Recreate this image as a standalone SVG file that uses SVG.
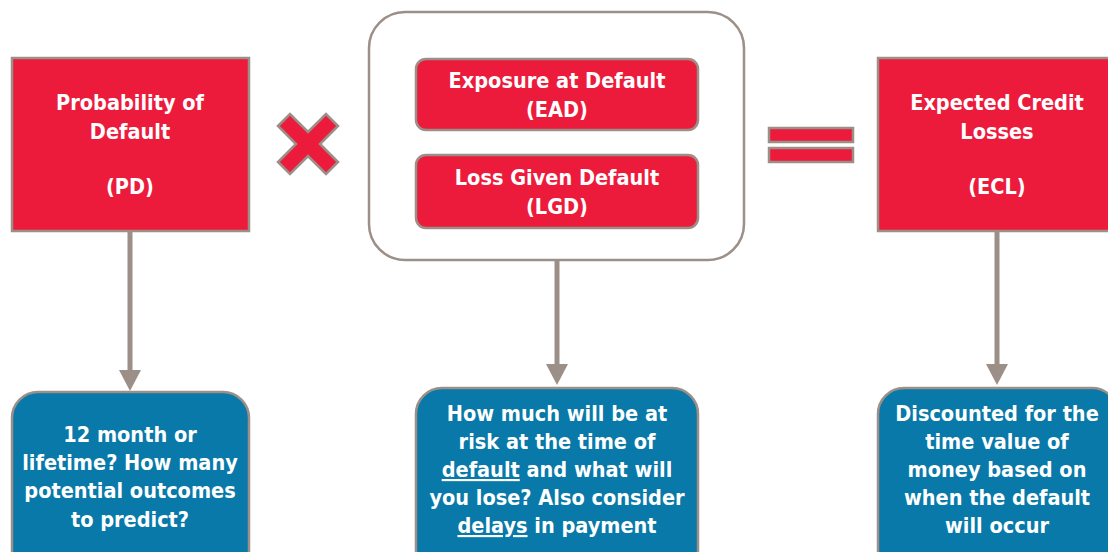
<svg xmlns="http://www.w3.org/2000/svg" width="1108" height="552" viewBox="0 0 1108 552">
<defs>
<style>
.red{fill:#ED1B3B;stroke:#9C8F88;stroke-width:2.5}
.blue{fill:#0879A8;stroke:#9C8F88;stroke-width:2.5}
.t{font-family:"DejaVu Sans Condensed","DejaVu Sans",sans-serif;font-stretch:condensed;font-weight:bold;font-size:21.5px;fill:#fff;text-anchor:middle}
.conn{stroke:#9C8F88;stroke-width:5;fill:none}
</style>
</defs>
<rect width="1108" height="552" fill="#fff"/>
<g id="connectors">
<line class="conn" x1="130" y1="232" x2="130" y2="372"/>
<path d="M119,370 L141,370 L130,391 Z" fill="#9C8F88"/>
<line class="conn" x1="557" y1="260" x2="557" y2="366"/>
<path d="M546,364 L568,364 L557,385 Z" fill="#9C8F88"/>
<line class="conn" x1="997" y1="232" x2="997" y2="366"/>
<path d="M986,364 L1008,364 L997,385 Z" fill="#9C8F88"/>
</g>
<g id="pd">
<rect class="red" x="12" y="58" width="237" height="173"/>
<text class="t" x="130" y="110">Probability of</text>
<text class="t" x="130" y="139">Default</text>
<text class="t" x="130" y="194">(PD)</text>
</g>
<g id="times">
<path class="red" d="M278,126 L290,114 L308,132 L326,114 L338,126 L320,144 L338,162 L326,174 L308,156 L290,174 L278,162 L296,144 Z"/>
</g>
<g id="container">
<rect x="369" y="12" width="375" height="248" rx="36" ry="36" fill="#fff" stroke="#9C8F88" stroke-width="2.5"/>
</g>
<g id="ead">
<rect class="red" x="416" y="59" width="282" height="71" rx="10" ry="10"/>
<text class="t" x="557" y="88">Exposure at Default</text>
<text class="t" x="557" y="117">(EAD)</text>
</g>
<g id="lgd">
<rect class="red" x="416" y="155" width="282" height="73" rx="10" ry="10"/>
<text class="t" x="557" y="185">Loss Given Default</text>
<text class="t" x="557" y="214">(LGD)</text>
</g>
<g id="equals">
<rect class="red" x="769" y="128" width="84" height="14"/>
<rect class="red" x="769" y="148" width="84" height="14"/>
</g>
<g id="ecl">
<rect class="red" x="878" y="58" width="240" height="173"/>
<text class="t" x="997" y="110">Expected Credit</text>
<text class="t" x="997" y="139">Losses</text>
<text class="t" x="997" y="194">(ECL)</text>
</g>
<g id="pd-note">
<rect class="blue" x="12" y="392" width="237" height="190" rx="26" ry="26"/>
<text class="t" x="130" y="442">12 month or</text>
<text class="t" x="130" y="470">lifetime? How many</text>
<text class="t" x="130" y="498">potential outcomes</text>
<text class="t" x="130" y="527">to predict?</text>
</g>
<g id="ead-note">
<rect class="blue" x="416" y="388" width="282" height="190" rx="26" ry="26"/>
<text class="t" x="557" y="421">How much will be at</text>
<text class="t" x="557" y="449">risk at the time of</text>
<text class="t" x="557" y="477"><tspan text-decoration="underline">default</tspan> and what will</text>
<text class="t" x="557" y="505">you lose? Also consider</text>
<text class="t" x="557" y="533"><tspan text-decoration="underline">delays</tspan> in payment</text>
</g>
<g id="ecl-note">
<rect class="blue" x="878" y="388" width="240" height="190" rx="26" ry="26"/>
<text class="t" x="997" y="421">Discounted for the</text>
<text class="t" x="997" y="449">time value of</text>
<text class="t" x="997" y="477">money based on</text>
<text class="t" x="997" y="505">when the default</text>
<text class="t" x="997" y="533">will occur</text>
</g>
</svg>
